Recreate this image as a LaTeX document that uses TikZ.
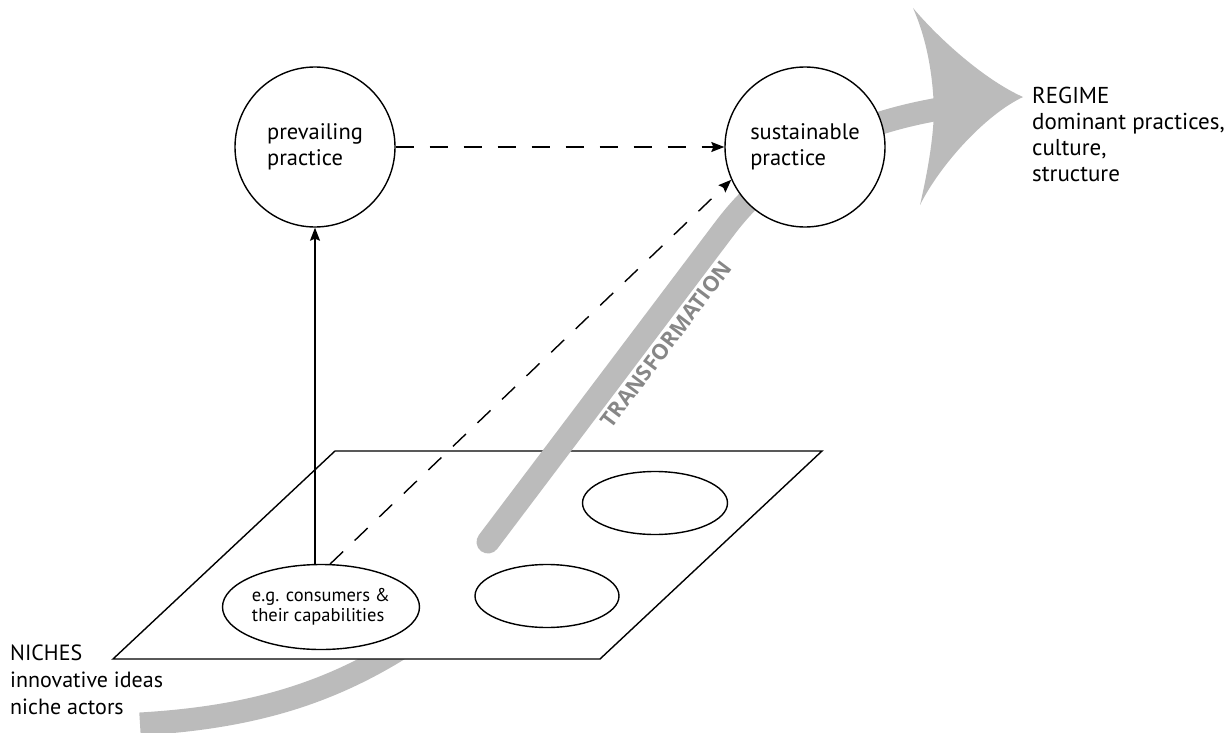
\documentclass[tikz,border=0pt]{standalone}
\usepackage{fontspec}
\setmainfont{PT Sans}[BoldFont={PT Sans Bold}]
\newfontfamily\lblfont{Open Sans}
\usetikzlibrary{arrows.meta,shapes.geometric}
\definecolor{bandgray}{RGB}{187,187,187}
\definecolor{lblgray}{RGB}{135,135,135}
\begin{document}
\begin{tikzpicture}[x=1pt,y=-1pt,
  practice/.style={circle, draw, line width=1.4pt, fill=white, minimum size=160pt, inner sep=0pt, align=left, font=\fontsize{22.5}{26}\selectfont},
  niche/.style={ellipse, draw, line width=1.4pt, fill=white, inner sep=0pt},
  plane/.style={draw, line width=1.4pt, fill=white, line join=miter},
  bandline/.style={draw=bandgray, line width=23pt},
  conn/.style={line width=1.4pt, -{Stealth[length=13pt,width=10pt,inset=2pt]}},
  dashconn/.style={conn, dash pattern=on 18pt off 16pt},
  sidetext/.style={align=left, anchor=north west, inner sep=0pt}
]
\useasboundingbox (0,0) rectangle (1228,733);
% lower part of the transformation band
\draw[bandline] (140,724) .. controls (260,717) and (345,690) .. (435,625);
% niche plane
\draw[plane] (113,659) -- (335,451) -- (822,451) -- (600,659) -- cycle;
\node[niche, minimum width=197pt, minimum height=85pt, align=left, font=\fontsize{18.5}{20.5}\selectfont] (cons) at (321,607) {e.g. consumers \&\\their capabilities};
\node[niche, minimum width=144pt, minimum height=63pt] (e2) at (547,596) {};
\node[niche, minimum width=145pt, minimum height=63pt] (e3) at (655,503) {};
% upper part of the transformation band
\draw[bandline, line cap=round] (488,542) -- (725,228) .. controls (780,155) and (860,122) .. (945,108);
\fill[bandgray] (913,8) .. controls (940,40) and (985,80) .. (1023,97)
  .. controls (985,115) and (940,165) .. (920,205)
  .. controls (928,170) and (933,140) .. (934,112)
  .. controls (933,70) and (925,35) .. (913,8) -- cycle;
\node[rotate=53, text=lblgray, font=\lblfont\fontsize{21.5}{24}\selectfont\bfseries] (tlab) at (666,344) {TRANSFORMATION};
% practices
\node[practice] (prev) at (315,147) {prevailing\\practice};
\node[practice] (sust) at (805,147) {sustainable\\practice};
% connectors
\draw[conn] (prev.south |- cons.north) -- (prev.south);
\draw[dashconn] (prev.east) -- (sust.west);
\draw[dashconn] (cons.78) -- (sust.204);
% side texts
\node[sidetext, font=\fontsize{23}{26}\selectfont] (regime) at (1032,87) {REGIME\\dominant practices,\\culture,\\structure};
\node[sidetext, font=\fontsize{22}{27}\selectfont] (niches) at (10,645) {NICHES\\innovative ideas\\niche actors};
\end{tikzpicture}
\end{document}
